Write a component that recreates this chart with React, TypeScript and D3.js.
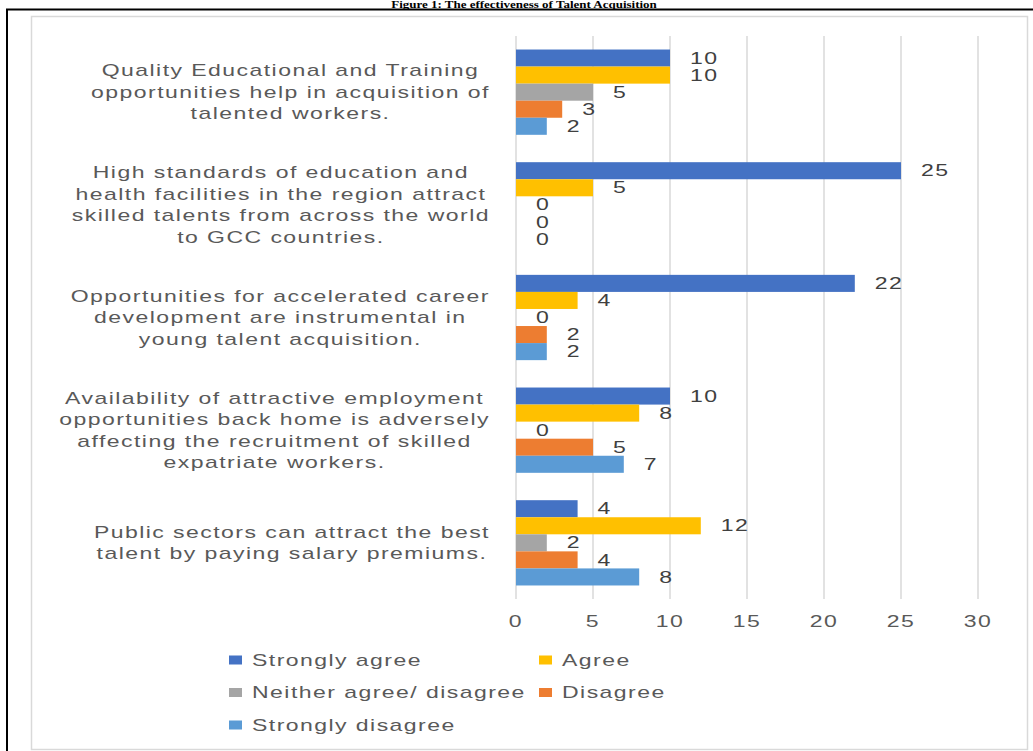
import { useMemo } from 'react'
import * as d3 from 'd3'

const categories: string[][] = [
  ['Quality Educational and Training', 'opportunities help in acquisition of', 'talented workers.'],
  ['High standards of education and', 'health facilities in the region attract', 'skilled talents from across the world', 'to GCC countries.'],
  ['Opportunities for accelerated career', 'development are instrumental in', 'young talent acquisition.'],
  ['Availability of attractive employment', 'opportunities back home is adversely', 'affecting the recruitment of skilled', 'expatriate workers.'],
  ['Public sectors can attract the best', 'talent by paying salary premiums.'],
]

const seriesNames = ['Strongly agree', 'Agree', 'Neither agree/ disagree', 'Disagree', 'Strongly disagree']
const stronglyAgree = [10, 25, 22, 10, 4]
const agree = [10, 5, 4, 8, 12]
const neither = [5, 0, 0, 0, 2]
const disagree = [3, 0, 2, 5, 4]
const stronglyDisagree = [2, 0, 2, 7, 8]
const xTicks = [0, 5, 10, 15, 20, 25, 30]

const seriesColors = ['#4472C4', '#FFC000', '#A5A5A5', '#ED7D31', '#5B9BD5']

const FONT = "'Liberation Sans', Arial, sans-serif"
const FONT_SIZE = 16
const SX = 1.44 // the source picture is stretched sideways
const LS = 1

type Series = { name: string; values: number[]; color: string }

function StretchText({ x, y, anchor = 'start', fill = '#595959', children }: { x: number; y: number; anchor?: string; fill?: string; children: React.ReactNode }) {
  return (
    <text
      transform={`translate(${x},${y}) scale(${SX},1)`}
      textAnchor={anchor}
      dominantBaseline="central"
      fontFamily={FONT}
      fontSize={FONT_SIZE}
      fill={fill}
      style={{ letterSpacing: `${LS}px` }}
    >
      {children}
    </text>
  )
}

export default function App() {
  const width = 1033
  const height = 751
  const plot = { left: 516, right: 978, top: 36, bottom: 599 }
  const labelRight = 490
  const lineHeight = 21.5

  const series = useMemo<Series[]>(
    () =>
      [stronglyAgree, agree, neither, disagree, stronglyDisagree].map((values, i) => ({
        name: seriesNames[i],
        values,
        color: seriesColors[i],
      })),
    []
  )

  const measure = useMemo(() => {
    const ctx = document.createElement('canvas').getContext('2d')!
    ctx.font = `${FONT_SIZE}px ${FONT}`
    return (s: string) => (ctx.measureText(s).width + LS * s.length) * SX
  }, [])

  const xScale = d3.scaleLinear().domain([0, 30]).range([plot.left, plot.right])
  const yScale = d3
    .scaleBand<number>()
    .domain(d3.range(categories.length))
    .range([plot.top, plot.bottom])
    .paddingInner(0.243)
    .paddingOuter(0.12)
  const subScale = d3
    .scaleBand<number>()
    .domain(d3.range(series.length))
    .range([0, yScale.bandwidth()])

  const legendCols = [229, 539]
  const legendRows = [660, 692.5, 725]

  return (
    <svg width={width} height={height} style={{ position: 'absolute', left: 0, top: 0 }}>
      <rect x={0} y={0} width={width} height={height} fill="#fff" />
      <text
        transform="translate(524,7.5) scale(1.3,1)"
        textAnchor="middle"
        fontFamily="'Liberation Serif', serif"
        fontWeight="bold"
        fontSize={10}
      >
        Figure 1: The effectiveness of Talent Acquisition
      </text>
      <rect x={7} y={9.5} width={width + 10} height={height + 10} fill="none" stroke="#000" strokeWidth={2} />
      <rect x={31.5} y={16.5} width={996} height={733} fill="#fff" stroke="#d9d9d9" strokeWidth={1.5} />

      {xTicks.map((t) => (
        <g key={`grid-${t}`}>
          <line x1={xScale(t)} x2={xScale(t)} y1={plot.top} y2={plot.bottom} stroke="#d9d9d9" strokeWidth={1.5} />
          <StretchText x={xScale(t)} y={621} anchor="middle">
            {t}
          </StretchText>
        </g>
      ))}

      {categories.map((lines, ci) => {
        const cy = (yScale(ci) ?? 0) + yScale.bandwidth() / 2
        const blockWidth = d3.max(lines, (l) => measure(l)) ?? 0
        const cx = labelRight - blockWidth / 2
        return (
          <g key={`cat-${ci}`}>
            {lines.map((line, li) => (
              <StretchText key={li} x={cx} y={cy + (li - (lines.length - 1) / 2) * lineHeight} anchor="middle">
                {line}
              </StretchText>
            ))}
            {series.map((s, si) => {
              const y0 = (yScale(ci) ?? 0) + (subScale(si) ?? 0)
              const v = s.values[ci]
              return (
                <g key={s.name}>
                  <rect
                    x={xScale(0)}
                    y={y0}
                    width={xScale(v) - xScale(0)}
                    height={subScale.bandwidth()}
                    fill={s.color}
                  />
                  <StretchText x={xScale(v) + 20} y={y0 + subScale.bandwidth() / 2} fill="#404040">
                    {v}
                  </StretchText>
                </g>
              )
            })}
          </g>
        )
      })}

      {series.map((s, i) => {
        const lx = legendCols[i % 2]
        const ly = legendRows[Math.floor(i / 2)]
        return (
          <g key={`legend-${s.name}`}>
            <rect x={lx} y={ly - 4.5} width={13} height={9} fill={s.color} />
            <StretchText x={lx + 23} y={ly}>
              {s.name}
            </StretchText>
          </g>
        )
      })}
    </svg>
  )
}
